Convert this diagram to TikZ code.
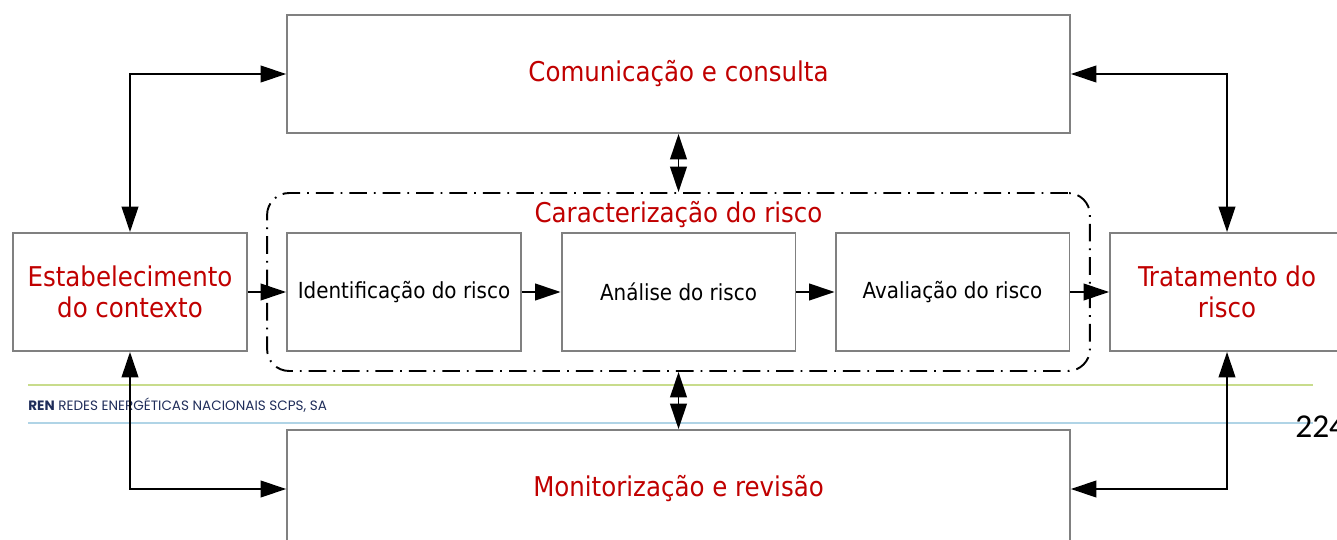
\documentclass[tikz,border=0pt]{standalone}
\usepackage{fontspec}
\setmainfont{DejaVu Sans Condensed}
\newfontfamily\footfont{Poppins}
\newfontfamily\pagefont{Carlito}
\usetikzlibrary{arrows.meta}
\definecolor{riskred}{RGB}{192,0,0}
\definecolor{boxgray}{RGB}{128,128,128}
\definecolor{rennavy}{RGB}{31,45,90}
\definecolor{rengreen}{RGB}{200,220,140}
\definecolor{renblue}{RGB}{176,212,230}

\begin{document}
\begin{tikzpicture}[x=0.02cm, y=-0.02cm,
		stepbox/.style={draw=boxgray, line width=1.1pt, minimum width=4.68cm, minimum height=2.36cm, align=center, font=\fontsize{12.6}{15}\selectfont},
		redbox/.style={stepbox, text=riskred, font=\fontsize{15.5}{17.6}\selectfont},
		widebox/.style={redbox, minimum width=15.66cm},
		link/.style={line width=1.1pt, -{Triangle[length=14.5pt, width=9.5pt]}},
		twolink/.style={line width=1.1pt, {Triangle[length=14.5pt, width=9.5pt]}-{Triangle[length=14.5pt, width=9.5pt]}}]
		%%%%% START %%%%%
		\useasboundingbox (0, 0) rectangle (1337, 540);
		\clip (0, 0) rectangle (1337, 540);
		
		% footer of the page behind
		\draw[rengreen, line width=0.8pt] (28, 385) -- (1313, 385);
		\draw[renblue, line width=0.8pt] (28, 423) -- (1313, 423);
		\node[anchor=west, text=rennavy, inner sep=0] (footer) at (28, 405) {\resizebox{170pt}{!}{\footfont\textbf{REN} REDES ENERGÉTICAS NACIONAIS SCPS, SA}};
		\node[anchor=base west, inner sep=0, font=\pagefont\fontsize{19}{19}\selectfont] (page) at (1295, 437) {224};
		
		% dash-dot frame
		\node[draw, line width=1.1pt, rounded corners=0.44cm, dash pattern=on 10pt off 4pt on 1pt off 4pt, minimum width=16.46cm, minimum height=3.56cm] (carac) at (678.5, 282) {};
		\node[text=riskred, font=\fontsize{15.5}{17}\selectfont] (caraclabel) at (678.5, 215) {Caracterização do risco};
		
		\node[widebox] (comun) at (678.5, 74) {Comunicação e consulta};
		\node[widebox] (monit) at (678.5, 489) {Monitorização e revisão};
		
		\node[redbox] (estab) at (130, 292) {Estabelecimento\\do contexto};
		\node[stepbox] (ident) at (404, 292) {Identificação do risco};
		\node[stepbox] (anal) at (678.5, 292) {Análise do risco};
		\node[stepbox] (aval) at (952.5, 292) {Avaliação do risco};
		\node[redbox] (trat) at (1227, 292) {Tratamento do\\risco};
		
		\draw[link] (estab) -- (ident);
		\draw[link] (ident) -- (anal);
		\draw[link] (anal) -- (aval);
		\draw[link] (aval) -- (trat);
		
		\draw[twolink] (estab.north) |- (comun.west);
		\draw[twolink] (estab.south) |- (monit.west);
		\draw[twolink] (trat.north) |- (comun.east);
		\draw[twolink] (trat.south) |- (monit.east);
		
		\draw[twolink] (comun.south) -- (carac.north);
		\draw[twolink] (carac.south) -- (monit.north);
		%%%%% END %%%%%
\end{tikzpicture}
\end{document}
